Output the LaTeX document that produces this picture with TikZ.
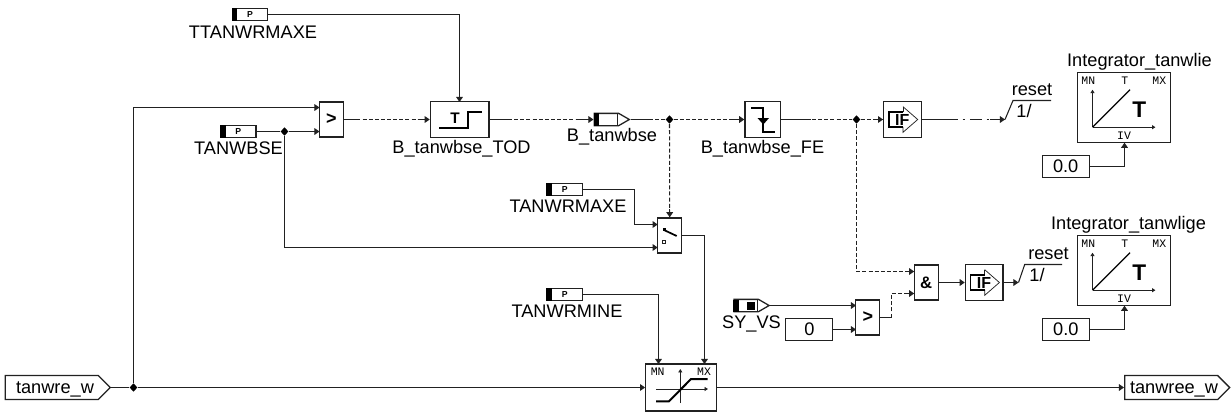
\documentclass[tikz,border=0pt]{standalone}
\usepackage{fontspec}
\setmainfont{Liberation Sans}
\newfontfamily\monof{Liberation Mono}
\usetikzlibrary{arrows.meta,calc,shapes.geometric,shapes.symbols}
\definecolor{ln}{gray}{0.13}
\tikzset{
  x=0.75pt,y=-0.75pt,
  tip/.tip={Triangle[length=3.8pt,width=5pt]},
  wire/.style={draw=ln,line width=0.8pt},
  arr/.style={wire,-tip},
  dsh/.style={draw=ln,line width=0.8pt,dash pattern=on 3pt off 1.6pt},
  dshdot/.style={draw=ln,line width=0.8pt,dash pattern=on 9pt off 3.5pt on 2pt off 3.5pt},
  heavy/.style={draw=black,line width=1.5pt},
  block/.style={draw=ln,line width=0.95pt,rectangle,inner sep=0pt,fill=white},
  cmpbox/.style={block,minimum width=18pt,minimum height=26.4pt,font=\fontsize{13.5}{14}\selectfont\bfseries},
  bigbox/.style={block,minimum width=44pt,minimum height=26.6pt},
  edgebox/.style={block,minimum width=26.8pt,minimum height=26.6pt},
  ifbox/.style={block,minimum width=28.2pt,minimum height=27.5pt},
  constbox/.style={block,minimum width=35.3pt,minimum height=16.2pt,font=\fontsize{13.65}{14}\selectfont},
  intbox/.style={block,minimum width=70pt,minimum height=52.5pt},
  limbox/.style={block,minimum width=53.2pt,minimum height=35.2pt},
  parbox/.style={block,minimum width=26.5pt,minimum height=9.2pt},
  txt/.style={inner sep=0pt,font=\fontsize{13.65}{14}\selectfont},
  mini/.style={inner sep=0pt,font=\monof\fontsize{8.6}{9}\selectfont},
  junc/.style={diamond,fill=black,inner sep=0pt,minimum width=6pt,minimum height=6.4pt},
  flag/.style={signal,signal to=east,signal pointer angle=90,draw=ln,line width=0.95pt,inner sep=0pt,fill=white,minimum width=78.75pt,minimum height=18pt,anchor=west},
  smallflag/.style={signal,signal to=east,signal pointer angle=60,draw=ln,line width=0.95pt,inner sep=0pt,fill=white,minimum width=26.4pt,minimum height=9.2pt,anchor=west},
}
% parameter block: name, centre x, centre y
\newcommand\parblock[3]{%
  \node[parbox] (#1) at (#2,#3) {};
  \fill[black] (#1.north west) rectangle ($(#1.south west)+(5.5,0)$);
  \node[inner sep=0pt,font=\fontsize{6.5}{7}\selectfont\bfseries] at (#1.center) {P};
}
% solid stubs of a dashed connection
\newcommand\stubs[4]{%
  \draw[wire] (#1) -- ++(#2,0);
  \draw[arr] ($(#3)+(#4)$) -- (#3);
}
% IF symbol around a node centre
\newcommand\ifsym[1]{%
  \begin{scope}[shift={(#1)}]
    \draw[draw=ln,line width=0.55pt] (0,-12.8) -- (14.7,0) -- (0,12.8) -- (0,7.3);
    \draw[draw=ln,line width=0.55pt] (0,-12.8) -- (0,-7.3);
    \draw[draw=black,line width=1.1pt] (0,-7.5) -- (-14,-7.5) -- (-14,7.5) -- (0,7.5);
    \node[inner sep=0pt,font=\fontsize{12}{12}\selectfont\bfseries] at (-0.8,0.5) {IF};
  \end{scope}
}
% integrator internals around its box centre
\newcommand\intsym[1]{%
  \begin{scope}[shift={(#1)}]
    \node[mini] at (-35.7,-27.4) {MN};
    \node[mini] at (0.7,-27.4) {T};
    \node[mini] at (35.3,-27.4) {MX};
    \node[mini] at (0,27.6) {IV};
    \draw[draw=ln,line width=0.7pt,-{Triangle[length=2.6pt,width=3pt]}] (-31.5,19.5) -- (-31.5,-18);
    \draw[draw=ln,line width=0.7pt,-{Triangle[length=2.6pt,width=3pt]}] (-31.5,19.5) -- (31.5,19.5);
    \draw[draw=black,line width=1pt] (-31.5,19.5) -- (6,-18);
    \node[inner sep=0pt,font=\fontsize{17}{17}\selectfont\bfseries] at (15.3,1.5) {T};
  \end{scope}
}
\begin{document}
\begin{tikzpicture}
\useasboundingbox[fill=white] (0,0) rectangle (1231,415);

% --- blocks
\parblock{ttan}{250}{14.5}
\node[txt] (ttanl) at (253,32) {TTANWRMAXE};
\parblock{tbse}{238.3}{131.5}
\node[txt] (tbsel) at (238.5,148.5) {TANWBSE};
\parblock{tmax}{564.7}{189.5}
\node[txt] (tmaxl) at (568,206.5) {TANWRMAXE};
\parblock{tmin}{564.7}{294.5}
\node[txt] (tminl) at (567,311) {TANWRMINE};

\node[cmpbox] (cmpa) at (331.5,119.5) {>};
\node[bigbox] (tod) at (459.7,119.5) {};
\node[txt] (todl) at (461.5,149) {B\_tanwbse\_TOD};
\node[smallflag] (bout) at (593.5,119.5) {};
\fill[black] (593.5,113.4) rectangle ++(5.5,12.2);
\draw[draw=ln,line width=0.75pt] (617.5,113.4) -- (617.5,125.6);
\node[txt] (boutl) at (612,137) {B\_tanwbse};
\node[edgebox] (fe) at (762.8,119.5) {};
\node[txt] (fel) at (762.5,149) {B\_tanwbse\_FE};
\node[cmpbox] (sw) at (669.7,235.5) {};
\node[limbox] (lim) at (681.2,387.5) {};
\node[ifbox] (ifa) at (902.5,119.5) {};
\node[block,minimum width=18pt,minimum height=26.3pt,font=\fontsize{12.5}{13}\selectfont\bfseries] (andb) at (926.2,282.5) {\&};
\node[ifbox] (ifb) at (984.2,282.5) {};
\node[cmpbox] (cmpb) at (867.8,317.5) {>};
\node[smallflag] (syvs) at (733.3,305.5) {};
\fill[black] (733.3,299.5) rectangle ++(5.5,12.2);
\fill[black] (746.7,301.5) rectangle ++(8.3,8.3);
\draw[draw=ln,line width=0.75pt] (757,299.5) -- (757,311.7);
\node[txt] (syvsl) at (751.5,323.5) {SY\_VS};
\node[constbox] (zero) at (809.3,329.5) {0};
\node[intbox] (inta) at (1124,107.7) {};
\node[txt] (intal) at (1139.5,61.5) {Integrator\_tanwlie};
\node[constbox] (ca) at (1065.7,166.5) {0.0};
\node[intbox] (intb) at (1124,270.7) {};
\node[txt] (intbl) at (1128.5,225) {Integrator\_tanwlige};
\node[constbox] (cb) at (1065.8,329.5) {0.0};
\node[flag] (inw) at (4.7,387.5) {};
\node[txt] (inwl) at (55,389) {tanwre\_w};
\node[flag] (outw) at (1124,387.5) {};
\node[txt] (outwl) at (1174,389) {tanwree\_w};

% --- named ports and junctions
\coordinate (cmpain) at (319.5,107.5);
\coordinate (cmpain2) at (319.5,131.5);
\coordinate (swa) at (657.7,224.5);
\coordinate (swb) at (657.7,247.5);
\coordinate (limmn) at (658.5,364);
\coordinate (limmx) at (704.5,364);
\coordinate (anda) at (914.2,271.5);
\coordinate (andc) at (914.2,293.5);
\coordinate (cmpbin) at (856,305.5);
\coordinate (cmpbin2) at (856,329.5);
\coordinate (todtop) at (459.5,102);
\coordinate (intaiv) at (1124.5,142.7);
\coordinate (intbiv) at (1124.5,305.7);
\node[junc] (jin) at (133.5,387.5) {};
\node[junc] (jbse) at (284.5,131.5) {};
\node[junc] (jb) at (669.5,119.5) {};
\node[junc] (jfe) at (856.5,119.5) {};

% --- solid connectors
\draw[wire] (inw.east) -- (jin);
\draw[arr] (jin) -- (lim.west);
\draw[arr] (lim.east) -- (outw.west);
\draw[arr] (jin) |- (cmpain);
\draw[wire] (tbse.east) -- (jbse);
\draw[arr] (jbse) -- (cmpain2);
\draw[arr] (jbse) |- (swb);
\draw[arr] (ttan.east) -| (todtop);
\draw[arr] (tmax.east) -- (634.5,189.5) |- (swa);
\draw[arr] (tmin.east) -| (limmn);
\draw[arr] (sw.east) -| (limmx);
\draw[arr] (syvs.east) -- (cmpbin);
\draw[arr] (zero.east) -- (cmpbin2);
\draw[arr] (andb.east) -- (ifb.west);
\draw[arr] (ca.east) -| (intaiv);
\draw[arr] (cb.east) -| (intbiv);

% --- dashed connectors
\draw[dsh] (cmpa.east) -- (tod.west);
\stubs{cmpa.east}{14}{tod.west}{-12,0}
\draw[dsh] (tod.east) -- (bout.west);
\stubs{tod.east}{18}{bout.west}{-18,0}
\draw[dsh] (bout.east) -- (jb);
\draw[wire] (bout.east) -- ++(19,0);
\draw[dsh] (jb) -- (fe.west);
\draw[arr] ($(fe.west)+(-14,0)$) -- (fe.west);
\draw[dsh] (jb) -- (sw.north);
\draw[arr] ($(sw.north)+(0,-8)$) -- (sw.north);
\draw[dsh] (fe.east) -- (jfe);
\draw[wire] (fe.east) -- ++(30,0);
\draw[dsh] (jfe) -- (ifa.west);
\draw[arr] ($(ifa.west)+(-9,0)$) -- (ifa.west);
\draw[dsh] (jfe) |- (anda);
\draw[arr] ($(anda)+(-9,0)$) -- (anda);
\draw[dsh] (891.5,317.5) |- (andc);
\draw[wire] (cmpb.east) -- (891.5,317.5);
\draw[arr] ($(andc)+(-10,0)$) -- (andc);

% --- reset inputs
\coordinate (ra) at (1005,119.5);
\coordinate (rb) at (1018.5,282.5);
\draw[dshdot] (ifa.east) -- (ra);
\draw[wire] (ifa.east) -- ++(25,0);
\draw[arr] ($(ra)+(-15,0)$) -- (ra);
\draw[wire] (ra) -- (1013,100.5) coordinate (ra2) -- (1051,100.5);
\draw[arr] (ifb.east) -- (rb);
\draw[wire] (rb) -- (1024.7,264.5) coordinate (rb2) -- (1062,264.5);
\node[txt] (resa) at (1032,90) {reset};
\node[txt] (onea) at (1024,111) {1/};
\node[txt] (resb) at (1048.5,253.5) {reset};
\node[txt] (oneb) at (1037,274.5) {1/};

% --- symbols inside blocks
\node[inner sep=0pt,font=\fontsize{11.5}{11}\selectfont\bfseries] at (455,118) {T};
\draw[heavy] (439.3,127.5) -- (467.5,127.5) -- (467.5,112.4) -- (481.7,112.4);
\draw[heavy] (751,107.8) -- (763.3,107.8) -- (763.3,132.4) -- (775,132.4);
\fill[black] (757.5,118) -- (769,118) -- (763.3,124.5) -- cycle;
\draw[draw=black,line width=1.3pt] (664,230) -- (676.7,236);
\fill[black] (662.6,228.3) rectangle ++(3.2,3);
\draw[draw=ln,line width=0.55pt] (662.8,240) rectangle ++(3,3);
\ifsym{903,119.5}
\ifsym{984.7,282.5}
\intsym{1124,107.7}
\intsym{1124,270.7}
\node[mini] at (657.7,372) {MN};
\node[mini] at (704,372) {MX};
\draw[draw=ln,line width=0.7pt,-{Triangle[length=2.6pt,width=3pt]}] (680.3,403) -- (680.3,369);
\draw[draw=ln,line width=0.7pt,-{Triangle[length=2.6pt,width=3pt]}] (656,389) -- (708,389);
\draw[heavy] (656,401.3) -- (669,401.3) -- (691,379) -- (707.7,379);
\end{tikzpicture}
\end{document}
